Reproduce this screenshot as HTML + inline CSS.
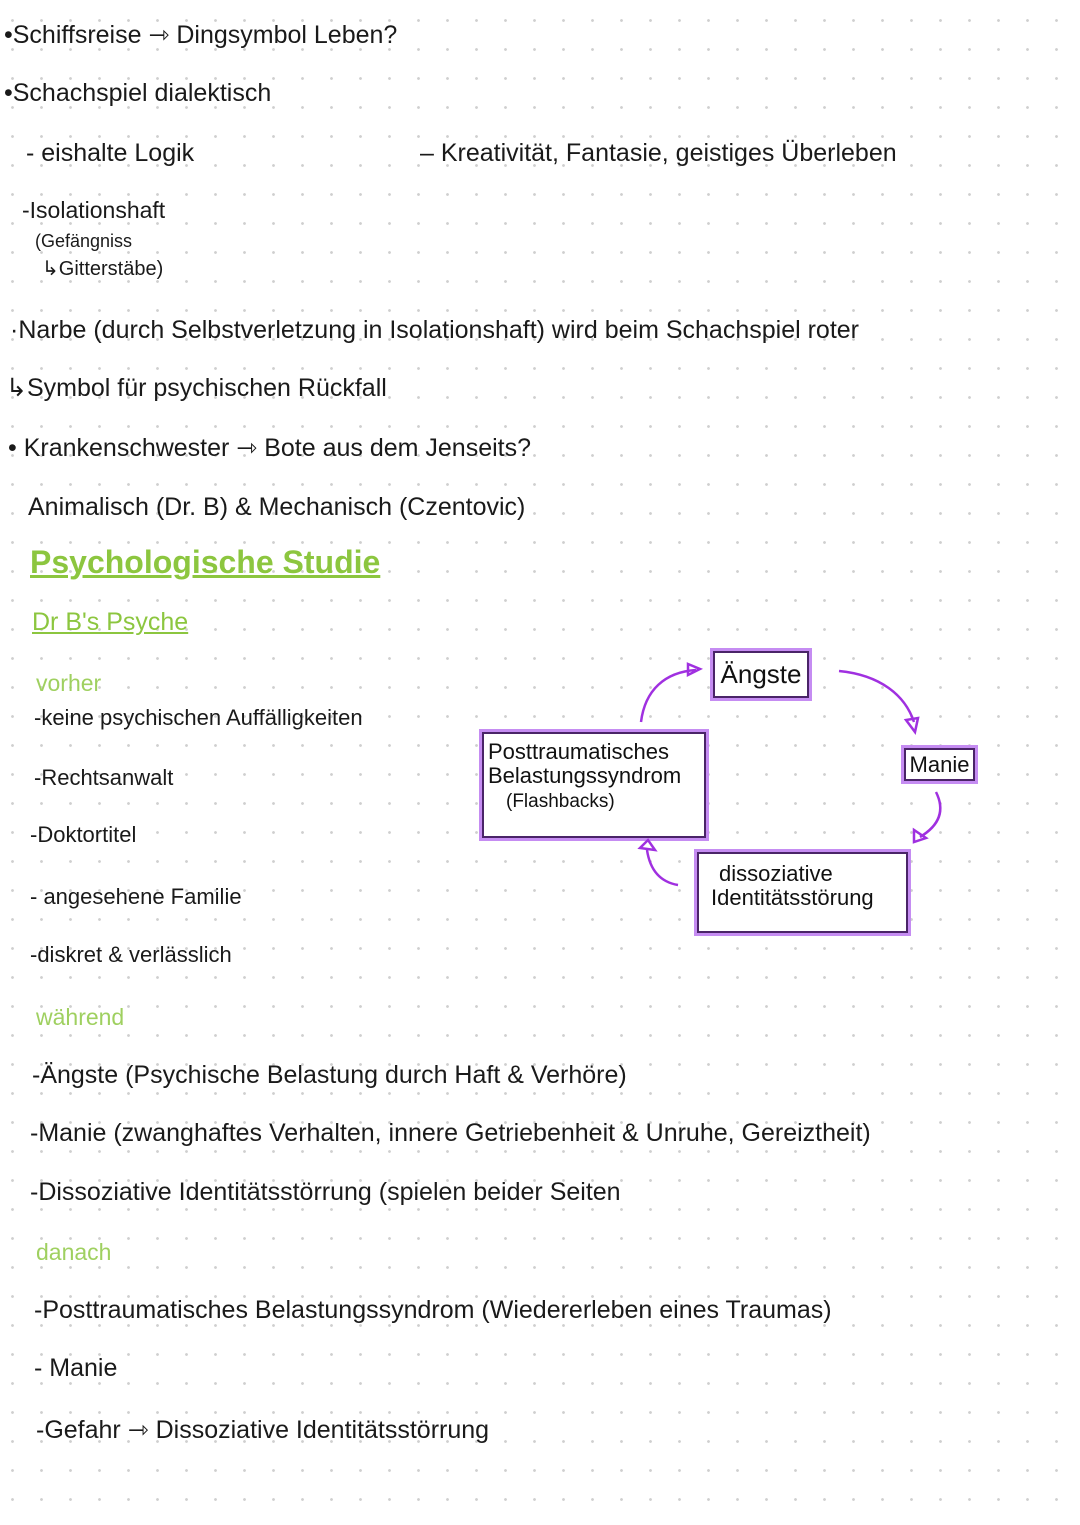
<!DOCTYPE html>
<html><head><meta charset="utf-8"><style>
html,body{margin:0;padding:0}
body{width:1080px;height:1525px;position:relative;overflow:hidden;background:#fff;
background-image:radial-gradient(circle,#cfcfcf 1.2px,transparent 1.6px);background-size:29px 29px;background-position:-2px 6px;
font-family:"Liberation Sans",sans-serif;color:#1a1a1a}
.t{position:absolute;white-space:nowrap;font-size:25px;line-height:30px;transform:translateY(-15px)}
.g{color:#8cc63f}
.gl{color:#9fd060;font-size:23px}
.box{position:absolute;border:2px solid #4a2468;box-shadow:0 0 0 3px #c58cf2;background:#fff;font-size:22px;line-height:24px;color:#111}
</style></head><body>
<div class="t" style="left:4px;top:35px">•Schiffsreise ⇾ Dingsymbol Leben?</div>
<div class="t" style="left:4px;top:93px">•Schachspiel dialektisch</div>
<div class="t" style="left:26px;top:153px">- eishalte Logik</div>
<div class="t" style="left:420px;top:153px">– Kreativität, Fantasie, geistiges Überleben</div>
<div class="t" style="left:22px;top:210px;font-size:23px">-Isolationshaft</div>
<div class="t" style="left:35px;top:241px;font-size:18px">(Gefängniss</div>
<div class="t" style="left:42px;top:269px;font-size:20px">↳Gitterstäbe)</div>
<div class="t" style="left:10px;top:330px">·Narbe (durch Selbstverletzung in Isolationshaft) wird beim Schachspiel roter</div>
<div class="t" style="left:6px;top:388px">↳Symbol für psychischen Rückfall</div>
<div class="t" style="left:8px;top:448px">• Krankenschwester ⇾ Bote aus dem Jenseits?</div>
<div class="t" style="left:28px;top:507px">Animalisch (Dr. B) &amp; Mechanisch (Czentovic)</div>
<div class="t g" style="left:30px;top:562px;font-size:32px;font-weight:bold;text-decoration:underline;text-decoration-thickness:3px">Psychologische Studie</div>
<div class="t g" style="left:32px;top:622px;text-decoration:underline">Dr B's Psyche</div>
<div class="t gl" style="left:36px;top:683px">vorher</div>
<div class="t" style="left:34px;top:718px;font-size:22px">-keine psychischen Auffälligkeiten</div>
<div class="t" style="left:34px;top:778px;font-size:22px">-Rechtsanwalt</div>
<div class="t" style="left:30px;top:835px;font-size:22px">-Doktortitel</div>
<div class="t" style="left:30px;top:897px;font-size:22px">- angesehene Familie</div>
<div class="t" style="left:30px;top:955px;font-size:22px">-diskret &amp; verlässlich</div>
<div class="t gl" style="left:36px;top:1017px">während</div>
<div class="t" style="left:32px;top:1075px">-Ängste (Psychische Belastung durch Haft &amp; Verhöre)</div>
<div class="t" style="left:30px;top:1133px">-Manie (zwanghaftes Verhalten, innere Getriebenheit &amp; Unruhe, Gereiztheit)</div>
<div class="t" style="left:30px;top:1192px">-Dissoziative Identitätsstörrung (spielen beider Seiten</div>
<div class="t gl" style="left:36px;top:1252px">danach</div>
<div class="t" style="left:34px;top:1310px">-Posttraumatisches Belastungssyndrom (Wiedererleben eines Traumas)</div>
<div class="t" style="left:34px;top:1368px">- Manie</div>
<div class="t" style="left:36px;top:1430px">-Gefahr ⇾ Dissoziative Identitätsstörrung</div>

<div class="box" style="left:713px;top:651px;width:92px;height:43px;font-size:26px;line-height:43px;text-align:center">Ängste</div>
<div class="box" style="left:904px;top:748px;width:67px;height:29px;font-size:22px;line-height:29px;text-align:center">Manie</div>
<div class="box" style="left:482px;top:732px;width:220px;height:102px;padding:0"><div style="padding:6px 0 0 4px">Posttraumatisches<br>Belastungssyndrom<br><span style="padding-left:18px;font-size:19px">(Flashbacks)</span></div></div>
<div class="box" style="left:697px;top:852px;width:207px;height:77px"><div style="padding:8px 0 0 20px">dissoziative</div><div style="padding-left:12px">Identitätsstörung</div></div>

<svg width="1080" height="1525" style="position:absolute;left:0;top:0" fill="none" stroke="#a030e0" stroke-width="2.5">
<path d="M641 722 C645 690 665 672 696 670"/>
<path d="M688 664 L700 669 L688 675 Z"/>
<path d="M839 671 C880 675 905 695 914 722"/>
<path d="M906 720 L915 732 L918 718 Z"/>
<path d="M936 792 C945 810 940 825 920 837"/>
<path d="M914 830 L914 842 L926 838 Z"/>
<path d="M678 885 C660 882 650 870 647 850"/>
<path d="M640 848 L648 840 L655 850 Z"/>
</svg>
</body></html>
